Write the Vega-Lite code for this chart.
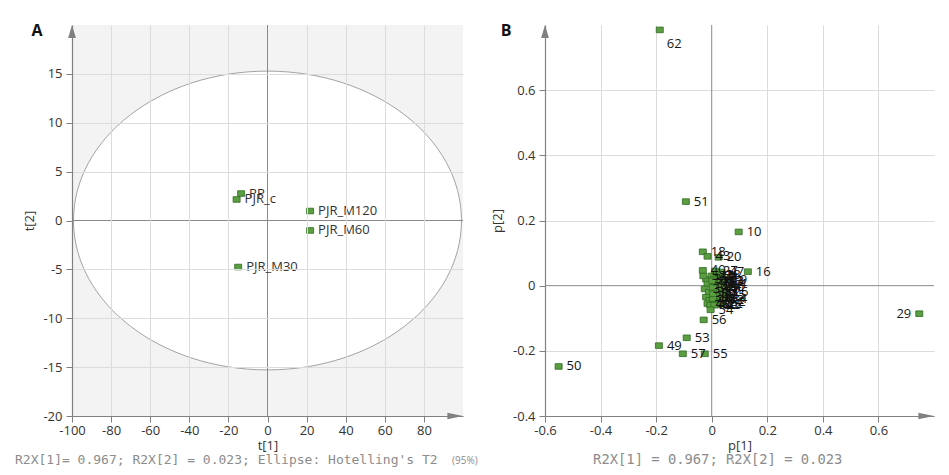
{
  "$schema": "https://vega.github.io/schema/vega-lite/v6.json",
  "background": "white",
  "padding": {"left": 15, "top": 23, "right": 5, "bottom": 5},
  "bounds": "flush",
  "spacing": 82,
  "config": {
    "font": "Open Sans",
    "view": {"stroke": null},
    "axis": {
      "labelFont": "Open Sans", "labelFontSize": 13, "labelColor": "#333333",
      "titleFont": "Open Sans", "titleFontSize": 13, "titleFontWeight": "normal", "titleColor": "#333333",
      "domainColor": "#808080", "domainWidth": 1.2, "tickColor": "#808080",
      "gridColor": "#dcdcdc", "labelFlush": false, "labelOverlap": false
    }
  },
  "datasets": {
    "scores": [
      {"name": "PP", "t1": -13.5, "t2": 2.76},
      {"name": "PJR_c", "t1": -15.8, "t2": 2.15},
      {"name": "PJR_M120", "t1": 21.8, "t2": 0.97},
      {"name": "PJR_M60", "t1": 21.8, "t2": -1.02},
      {"name": "PJR_M30", "t1": -15.0, "t2": -4.76}
    ],
    "loadings": [
      {"id": "1", "p1": 0.03, "p2": 0.01},
      {"id": "2", "p1": 0.035, "p2": -0.02},
      {"id": "3", "p1": 0.025, "p2": -0.035},
      {"id": "5", "p1": 0.04, "p2": 0.0},
      {"id": "6", "p1": 0.02, "p2": 0.02},
      {"id": "7", "p1": 0.045, "p2": -0.01},
      {"id": "8", "p1": 0.015, "p2": -0.05},
      {"id": "9", "p1": 0.03, "p2": 0.028},
      {"id": "11", "p1": 0.008, "p2": 0.01},
      {"id": "12", "p1": 0.035, "p2": -0.045},
      {"id": "13", "p1": 0.012, "p2": -0.02},
      {"id": "14", "p1": 0.025, "p2": 0.0},
      {"id": "15", "p1": 0.04, "p2": -0.03},
      {"id": "17", "p1": 0.02, "p2": -0.01},
      {"id": "19", "p1": 0.045, "p2": 0.018},
      {"id": "21", "p1": 0.015, "p2": 0.03},
      {"id": "22", "p1": 0.03, "p2": -0.055},
      {"id": "23", "p1": 0.035, "p2": 0.015},
      {"id": "24", "p1": 0.012, "p2": 0.0},
      {"id": "25", "p1": 0.025, "p2": -0.058},
      {"id": "26", "p1": 0.05, "p2": -0.02},
      {"id": "28", "p1": 0.022, "p2": 0.033},
      {"id": "30", "p1": 0.035, "p2": -0.005},
      {"id": "31", "p1": 0.018, "p2": -0.03},
      {"id": "32", "p1": 0.04, "p2": -0.05},
      {"id": "33", "p1": 0.028, "p2": 0.015},
      {"id": "34", "p1": 0.045, "p2": -0.04},
      {"id": "35", "p1": -0.02, "p2": 0.02},
      {"id": "36", "p1": -0.015, "p2": 0.005},
      {"id": "37", "p1": -0.025, "p2": -0.01},
      {"id": "38", "p1": -0.01, "p2": -0.02},
      {"id": "39", "p1": -0.02, "p2": -0.035},
      {"id": "41", "p1": -0.008, "p2": -0.045},
      {"id": "42", "p1": -0.015, "p2": -0.055},
      {"id": "44", "p1": -0.005, "p2": -0.06},
      {"id": "45", "p1": 0.0, "p2": 0.03},
      {"id": "46", "p1": 0.005, "p2": -0.005},
      {"id": "48", "p1": 0.005, "p2": -0.04},
      {"id": "52", "p1": -0.03, "p2": 0.03},
      {"id": "58", "p1": 0.008, "p2": 0.02},
      {"id": "59", "p1": 0.005, "p2": -0.025},
      {"id": "60", "p1": 0.01, "p2": -0.06},
      {"id": "61", "p1": 0.002, "p2": 0.015},
      {"id": "18", "p1": -0.032, "p2": 0.104},
      {"id": "43", "p1": -0.015, "p2": 0.09},
      {"id": "20", "p1": 0.025, "p2": 0.087},
      {"id": "40", "p1": -0.032, "p2": 0.047},
      {"id": "27", "p1": 0.012, "p2": 0.045},
      {"id": "47", "p1": 0.035, "p2": 0.042},
      {"id": "4", "p1": 0.07, "p2": 0.006},
      {"id": "54", "p1": -0.004, "p2": -0.074},
      {"id": "16", "p1": 0.13, "p2": 0.043},
      {"id": "56", "p1": -0.029, "p2": -0.105},
      {"id": "55", "p1": -0.025, "p2": -0.209},
      {"id": "57", "p1": -0.104, "p2": -0.209},
      {"id": "53", "p1": -0.09, "p2": -0.16},
      {"id": "49", "p1": -0.19, "p2": -0.184},
      {"id": "50", "p1": -0.551, "p2": -0.248},
      {"id": "10", "p1": 0.097, "p2": 0.165},
      {"id": "51", "p1": -0.093, "p2": 0.258},
      {"id": "62", "p1": -0.187, "p2": 0.785},
      {"id": "29", "p1": 0.747, "p2": -0.086}
    ]
  },
  "hconcat": [
    {
      "width": 391,
      "height": 391,
      "view": {"fill": "#f3f3f3", "stroke": null},
      "layer": [
        {
          "data": {"values": [{}]},
          "mark": {"type": "point", "shape": "M -1 0 C -1 -0.4253 -0.5523 -0.77 0 -0.77 C 0.5523 -0.77 1 -0.4253 1 0 C 1 0.4253 0.5523 0.77 0 0.77 C -0.5523 0.77 -1 0.4253 -1 0 Z", "size": 150544, "filled": true, "fill": "white", "stroke": "#a3a3a3", "strokeWidth": 1, "opacity": 1},
          "encoding": {
            "x": {"datum": 0, "type": "quantitative",
              "scale": {"domain": [-100, 100], "nice": false, "zero": false},
              "axis": {
                "title": "t[1]", "zindex": 1,
                "values": [-100,-95,-90,-85,-80,-75,-70,-65,-60,-55,-50,-45,-40,-35,-30,-25,-20,-15,-10,-5,0,5,10,15,20,25,30,35,40,45,50,55,60,65,70,75,80,85,90,95],
                "labelExpr": "datum.value % 20 == 0 ? replace(format(datum.value, '~g'), '\u2212', '-') : ''",
                "grid": true,
                "gridOpacity": {"condition": {"test": "datum.value % 20 == 0 && datum.value != 0", "value": 1}, "value": 0},
                "tickSize": {"condition": {"test": "datum.value % 20 == 0", "value": 6}, "value": 3},
                "labelPadding": 2, "titlePadding": 2
              }
            },
            "y": {"datum": 0, "type": "quantitative",
              "scale": {"domain": [-20, 20], "nice": false, "zero": false},
              "axis": {
                "title": "t[2]", "zindex": 1,
                "values": [-20,-17.5,-15,-12.5,-10,-7.5,-5,-2.5,0,2.5,5,7.5,10,12.5,15,17.5],
                "labelExpr": "datum.value % 5 == 0 ? replace(format(datum.value, '~g'), '\u2212', '-') : ''",
                "grid": true,
                "gridOpacity": {"condition": {"test": "datum.value % 5 == 0 && datum.value != 0", "value": 1}, "value": 0},
                "tickSize": {"condition": {"test": "datum.value % 5 == 0", "value": 6}, "value": 3},
                "labelPadding": 4, "titlePadding": 6
              }
            }
          }
        },
        {
          "data": {"values": [{}]},
          "mark": {"type": "rule", "color": "#8a8a8a", "strokeWidth": 1},
          "encoding": {"x": {"datum": 0, "type": "quantitative"}}
        },
        {
          "data": {"values": [{}]},
          "mark": {"type": "rule", "color": "#8a8a8a", "strokeWidth": 1},
          "encoding": {"y": {"datum": 0, "type": "quantitative"}}
        },
        {
          "data": {"name": "scores"},
          "mark": {"type": "point", "shape": "M -1 -0.8 L 1 -0.8 L 1 0.8 L -1 0.8 Z", "size": 49, "filled": true, "fill": "#5b9e42", "stroke": "#2f6a22", "strokeWidth": 0.8, "opacity": 1},
          "encoding": {
            "x": {"field": "t1", "type": "quantitative"},
            "y": {"field": "t2", "type": "quantitative"}
          }
        },
        {
          "data": {"name": "scores"},
          "mark": {"type": "text", "align": "left", "baseline": "middle", "dx": 8, "fontSize": 13, "color": "#333333"},
          "encoding": {
            "x": {"field": "t1", "type": "quantitative"},
            "y": {"field": "t2", "type": "quantitative"},
            "text": {"field": "name"}
          }
        },
        {
          "data": {"values": [{}]},
          "mark": {"type": "point", "shape": "M 0 0 L 0.6 2 L -0.6 2 Z", "size": 169, "filled": true, "color": "#808080", "opacity": 1},
          "encoding": {"x": {"datum": -100, "type": "quantitative"}, "y": {"datum": 20, "type": "quantitative"}}
        },
        {
          "data": {"values": [{}]},
          "mark": {"type": "point", "shape": "M 0 0 L -2.4 -0.5 L -2.4 0.5 Z", "size": 169, "filled": true, "color": "#808080", "opacity": 1},
          "encoding": {"x": {"datum": 100, "type": "quantitative"}, "y": {"datum": -20, "type": "quantitative"}}
        },
        {
          "data": {"values": [{}]},
          "mark": {"type": "text", "text": "A", "fontSize": 16, "fontWeight": "bold", "color": "#111111", "dx": -35, "dy": 6, "align": "center", "baseline": "middle"},
          "encoding": {"x": {"datum": -100, "type": "quantitative"}, "y": {"datum": 20, "type": "quantitative"}}
        },
        {
          "data": {"values": [{}]},
          "mark": {"type": "text", "text": "R2X[1]= 0.967; R2X[2] = 0.023; Ellipse: Hotelling's T2", "font": "DejaVu Sans Mono", "fontSize": 13, "color": "#8c8c8c", "dx": -57, "dy": 44, "align": "left", "baseline": "middle"},
          "encoding": {"x": {"datum": -100, "type": "quantitative"}, "y": {"datum": -20, "type": "quantitative"}}
        },
        {
          "data": {"values": [{}]},
          "mark": {"type": "text", "text": "(95%)", "fontSize": 10, "color": "#8c8c8c", "dx": -11, "dy": 45, "align": "left", "baseline": "middle"},
          "encoding": {"x": {"datum": 100, "type": "quantitative"}, "y": {"datum": -20, "type": "quantitative"}}
        }
      ]
    },
    {
      "width": 389,
      "height": 391,
      "view": {"fill": "white", "stroke": null},
      "layer": [
        {
          "data": {"values": [{}]},
          "mark": {"type": "rule", "color": "#8a8a8a", "strokeWidth": 1},
          "encoding": {
            "x": {"datum": 0, "type": "quantitative",
              "scale": {"domain": [-0.6, 0.8], "nice": false, "zero": false},
              "axis": {
                "title": "p[1]",
                "values": [-0.6,-0.5,-0.4,-0.3,-0.2,-0.1,0,0.1,0.2,0.3,0.4,0.5,0.6,0.7],
                "labelExpr": "round(datum.value*10) % 2 == 0 ? replace(format(datum.value, '~g'), '\u2212', '-') : ''",
                "grid": true,
                "gridOpacity": {"condition": {"test": "round(datum.value*10) % 2 == 0 && datum.value != 0", "value": 1}, "value": 0},
                "tickSize": {"condition": {"test": "round(datum.value*10) % 2 == 0", "value": 6}, "value": 3},
                "labelPadding": 2, "titlePadding": 2
              }
            }
          }
        },
        {
          "data": {"values": [{}]},
          "mark": {"type": "rule", "color": "#8a8a8a", "strokeWidth": 1},
          "encoding": {
            "y": {"datum": 0, "type": "quantitative",
              "scale": {"domain": [-0.4, 0.8], "nice": false, "zero": false},
              "axis": {
                "title": "p[2]",
                "values": [-0.4,-0.3,-0.2,-0.1,0,0.1,0.2,0.3,0.4,0.5,0.6,0.7],
                "labelExpr": "round(datum.value*10) % 2 == 0 ? replace(format(datum.value, '~g'), '\u2212', '-') : ''",
                "grid": true,
                "gridOpacity": {"condition": {"test": "round(datum.value*10) % 2 == 0 && datum.value != 0", "value": 1}, "value": 0},
                "tickSize": {"condition": {"test": "round(datum.value*10) % 2 == 0", "value": 6}, "value": 3},
                "labelPadding": 4, "titlePadding": 8
              }
            }
          }
        },
        {
          "data": {"name": "loadings"},
          "mark": {"type": "point", "shape": "M -1 -0.8 L 1 -0.8 L 1 0.8 L -1 0.8 Z", "size": 49, "filled": true, "fill": "#5b9e42", "stroke": "#2f6a22", "strokeWidth": 0.8, "opacity": 1},
          "encoding": {
            "x": {"field": "p1", "type": "quantitative"},
            "y": {"field": "p2", "type": "quantitative"}
          }
        },
        {
          "data": {"name": "loadings"},
          "transform": [{"filter": "datum.id != '29' && datum.id != '62'"}],
          "mark": {"type": "text", "align": "left", "baseline": "middle", "dx": 8, "fontSize": 13, "color": "#111111"},
          "encoding": {
            "x": {"field": "p1", "type": "quantitative"},
            "y": {"field": "p2", "type": "quantitative"},
            "text": {"field": "id"}
          }
        },
        {
          "data": {"name": "loadings"},
          "transform": [{"filter": "datum.id == '29'"}],
          "mark": {"type": "text", "align": "right", "baseline": "middle", "dx": -8, "fontSize": 13, "color": "#1a1a1a"},
          "encoding": {
            "x": {"field": "p1", "type": "quantitative"},
            "y": {"field": "p2", "type": "quantitative"},
            "text": {"field": "id"}
          }
        },
        {
          "data": {"name": "loadings"},
          "transform": [{"filter": "datum.id == '62'"}],
          "mark": {"type": "text", "align": "left", "baseline": "middle", "dx": 7, "dy": 14, "fontSize": 13, "color": "#1a1a1a"},
          "encoding": {
            "x": {"field": "p1", "type": "quantitative"},
            "y": {"field": "p2", "type": "quantitative"},
            "text": {"field": "id"}
          }
        },
        {
          "data": {"values": [{}]},
          "mark": {"type": "point", "shape": "M 0 0 L 0.6 2 L -0.6 2 Z", "size": 169, "filled": true, "color": "#808080", "opacity": 1},
          "encoding": {"x": {"datum": -0.6, "type": "quantitative"}, "y": {"datum": 0.8, "type": "quantitative"}}
        },
        {
          "data": {"values": [{}]},
          "mark": {"type": "point", "shape": "M 0 0 L -2.4 -0.5 L -2.4 0.5 Z", "size": 169, "filled": true, "color": "#808080", "opacity": 1},
          "encoding": {"x": {"datum": 0.8, "type": "quantitative"}, "y": {"datum": -0.4, "type": "quantitative"}}
        },
        {
          "data": {"values": [{}]},
          "mark": {"type": "text", "text": "B", "fontSize": 16, "fontWeight": "bold", "color": "#111111", "dx": -39, "dy": 6, "align": "center", "baseline": "middle"},
          "encoding": {"x": {"datum": -0.6, "type": "quantitative"}, "y": {"datum": 0.8, "type": "quantitative"}}
        },
        {
          "data": {"values": [{}]},
          "mark": {"type": "text", "text": "R2X[1] = 0.967; R2X[2] = 0.023", "font": "DejaVu Sans Mono", "fontSize": 13.8, "color": "#8c8c8c", "dx": 6, "dy": 44, "align": "center", "baseline": "middle"},
          "encoding": {"x": {"datum": 0, "type": "quantitative"}, "y": {"datum": -0.4, "type": "quantitative"}}
        }
      ]
    }
  ]
}
